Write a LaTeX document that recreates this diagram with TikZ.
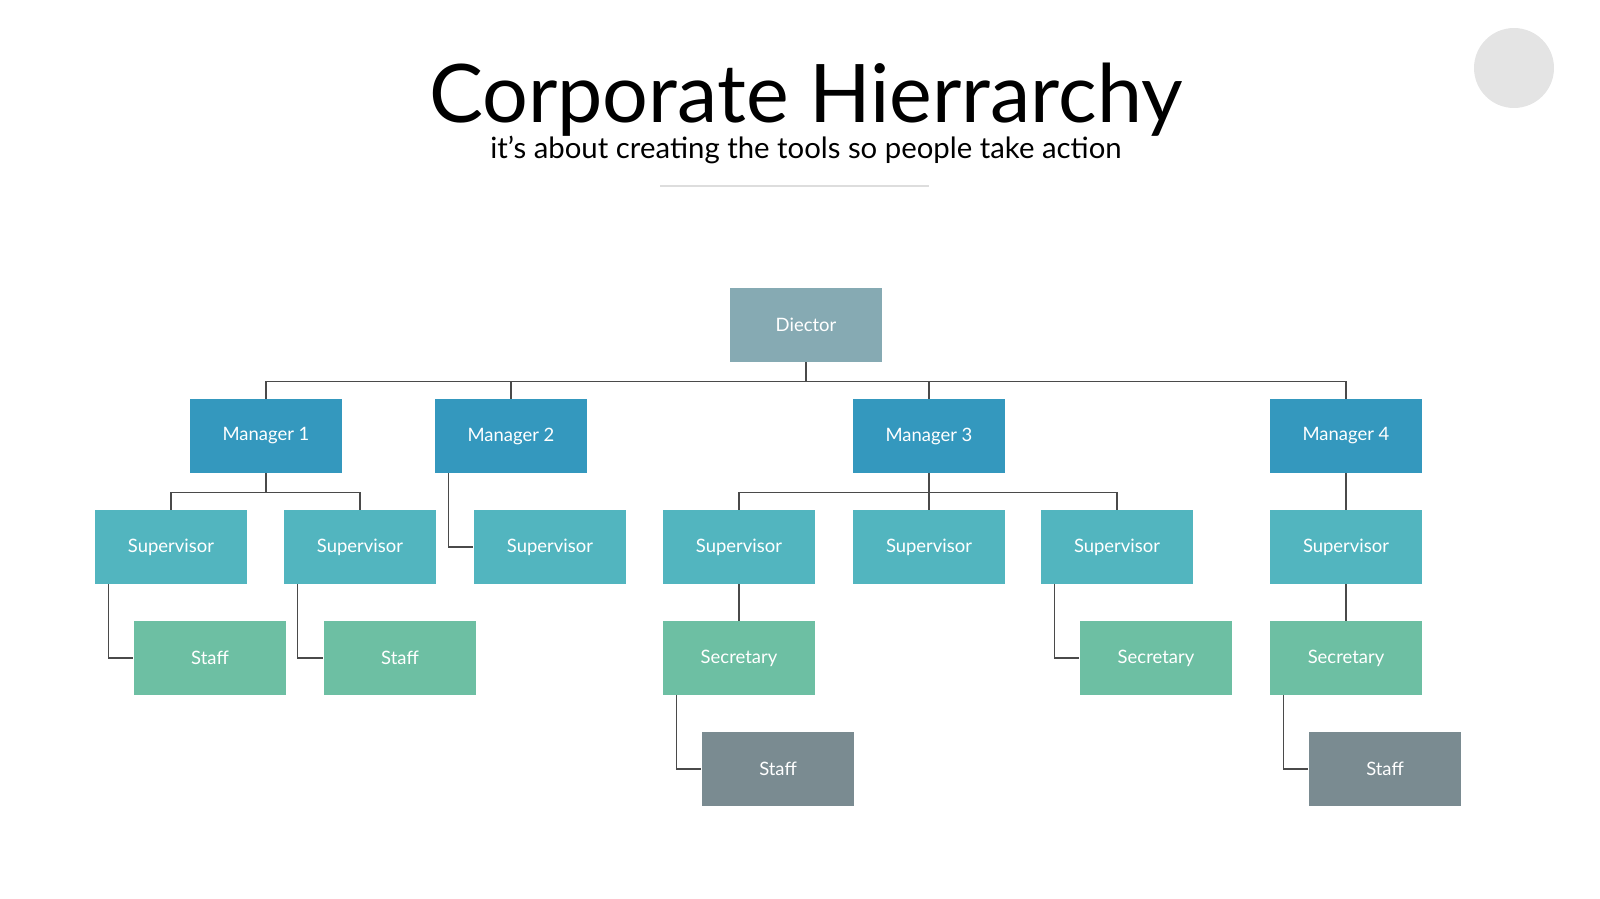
\documentclass[tikz,border=0pt]{standalone}
\usepackage{fontspec}
\setmainfont{Lato}
\usepackage{tikz}
\usetikzlibrary{positioning}
\definecolor{dirgray}{HTML}{86AAB3}
\definecolor{mgrblue}{HTML}{3498BE}
\definecolor{supteal}{HTML}{52B5BF}
\definecolor{stfgreen}{HTML}{6DBFA3}
\definecolor{stfdark}{HTML}{7A8B91}
\definecolor{linegray}{HTML}{4A4A4A}
\definecolor{rulegray}{HTML}{DDDDDD}
\definecolor{circgray}{HTML}{E4E4E4}

\begin{document}
\begin{tikzpicture}[
  x=0.02cm,y=-0.02cm,
  box/.style={minimum width=3.06cm,minimum height=1.48cm,inner sep=0pt,text=white,font=\fontsize{10.5}{12}\selectfont},
  director/.style={box,fill=dirgray},
  manager/.style={box,fill=mgrblue},
  supervisor/.style={box,fill=supteal},
  staff/.style={box,fill=stfgreen},
  lowstaff/.style={box,fill=stfdark},
  link/.style={draw=linegray,line width=0.6pt}]
\useasboundingbox (0,0) rectangle (1600,899);
\fill[circgray] (1514,68) circle (0.8cm);
\node[anchor=base,font=\fontsize{46}{50}\selectfont] (title) at (806,122) {Corporate Hierrarchy};
\node[anchor=base,font=\fontsize{16.7}{18}\selectfont] (subtitle) at (806,158) {it’s about crea\mbox{}ting the tools so people take action};
\draw[rulegray,line width=1.2pt] (660,186) -- (929,186);
% boxes
\node[director] (dir) at (806,325) {Diector};
\node[manager] (m1) at (266,436) {Manager 1};
\node[manager] (m2) at (511,436) {Manager 2};
\node[manager] (m3) at (929,436) {Manager 3};
\node[manager] (m4) at (1346,436) {Manager 4};
\node[supervisor] (s1) at (171,547) {Supervisor};
\node[supervisor] (s2) at (360,547) {Supervisor};
\node[supervisor] (s3) at (550,547) {Supervisor};
\node[supervisor] (s4) at (739,547) {Supervisor};
\node[supervisor] (s5) at (929,547) {Supervisor};
\node[supervisor] (s6) at (1117,547) {Supervisor};
\node[supervisor] (s7) at (1346,547) {Supervisor};
\node[staff] (f1) at (210,658) {Staff};
\node[staff] (f2) at (400,658) {Staff};
\node[staff] (c1) at (739,658) {Secretary};
\node[staff] (c2) at (1156,658) {Secretary};
\node[staff] (c3) at (1346,658) {Secretary};
\node[lowstaff] (d1) at (778,769) {Staff};
\node[lowstaff] (d2) at (1385,769) {Staff};
% links
\foreach \m in {m1,m2,m3,m4}
  \draw[link] (dir.south) -- ++(0,19) -| (\m.north);
\foreach \s in {s1,s2}
  \draw[link] (m1.south) -- ++(0,19) -| (\s.north);
\foreach \s in {s4,s5,s6}
  \draw[link] (m3.south) -- ++(0,19) -| (\s.north);
\draw[link] ([xshift=0.29cm]m2.south west) |- (s3.west);
\draw[link] (m4.south) -- (s7.north);
\draw[link] ([xshift=0.29cm]s1.south west) |- (f1.west);
\draw[link] ([xshift=0.29cm]s2.south west) |- (f2.west);
\draw[link] (s4.south) -- (c1.north);
\draw[link] ([xshift=0.29cm]s6.south west) |- (c2.west);
\draw[link] (s7.south) -- (c3.north);
\draw[link] ([xshift=0.29cm]c1.south west) |- (d1.west);
\draw[link] ([xshift=0.29cm]c3.south west) |- (d2.west);
\end{tikzpicture}
\end{document}
